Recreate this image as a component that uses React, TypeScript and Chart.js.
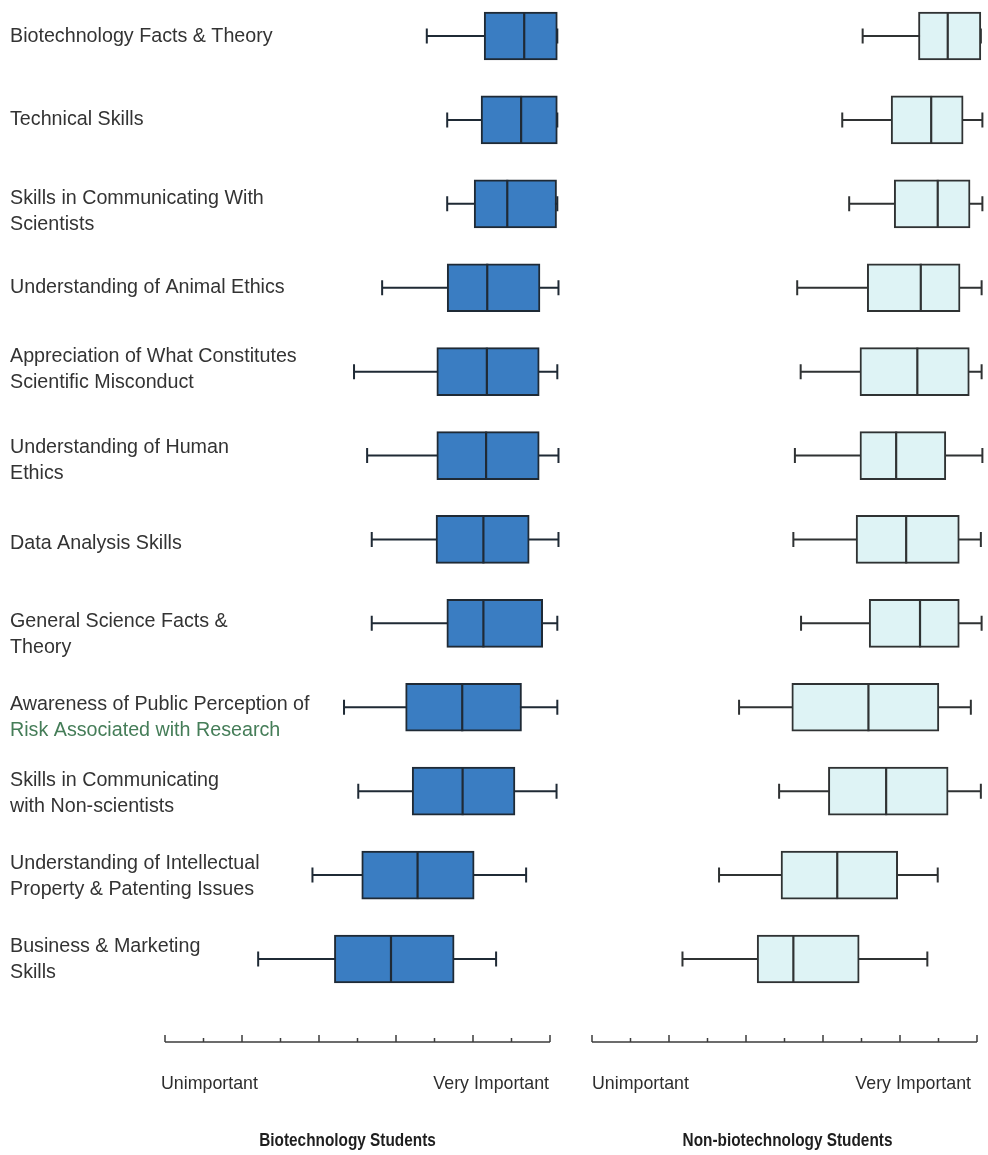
import React, { useEffect, useRef } from "react";
import { Chart, registerables } from "chart.js";

Chart.register(...registerables);

// ---------- data ----------
const categories: string[][] = [
  ["Biotechnology Facts & Theory"],
  ["Technical Skills"],
  ["Skills in Communicating With", "Scientists"],
  ["Understanding of Animal Ethics"],
  ["Appreciation of What Constitutes", "Scientific Misconduct"],
  ["Understanding of Human", "Ethics"],
  ["Data Analysis Skills"],
  ["General Science Facts &", "Theory"],
  ["Awareness of Public Perception of", "Risk Associated with Research"],
  ["Skills in Communicating", "with Non-scientists"],
  ["Understanding of Intellectual", "Property & Patenting Issues"],
  ["Business & Marketing", "Skills"],
];

const bioMin = [6.8, 7.33, 7.33, 5.64, 4.91, 5.25, 5.37, 5.37, 4.65, 5.02, 3.83, 2.42];
const bioQ1 = [8.29, 8.21, 8.03, 7.33, 7.06, 7.06, 7.04, 7.32, 6.25, 6.42, 5.11, 4.4];
const bioMedian = [9.33, 9.25, 8.89, 8.37, 8.36, 8.34, 8.27, 8.27, 7.72, 7.73, 6.56, 5.87];
const bioQ3 = [10.19, 10.19, 10.17, 9.74, 9.72, 9.72, 9.46, 9.81, 9.26, 9.09, 8.03, 7.51];
const bioMax = [10.19, 10.19, 10.19, 10.22, 10.19, 10.22, 10.22, 10.19, 10.19, 10.17, 9.38, 8.6];

const nonMin = [7.03, 6.5, 6.68, 5.33, 5.42, 5.27, 5.23, 5.43, 3.82, 4.86, 3.3, 2.35];
const nonQ1 = [8.48, 7.77, 7.85, 7.15, 6.96, 6.96, 6.86, 7.2, 5.19, 6.14, 4.91, 4.29];
const nonMedian = [9.24, 8.81, 8.98, 8.54, 8.45, 7.9, 8.16, 8.52, 7.18, 7.64, 6.37, 5.23];
const nonQ3 = [10.1, 9.64, 9.82, 9.56, 9.8, 9.19, 9.54, 9.54, 9.01, 9.25, 7.94, 6.94];
const nonMax = [10.1, 10.14, 10.14, 10.12, 10.12, 10.14, 10.1, 10.12, 9.84, 10.1, 8.98, 8.71];

const axisTickValues = [0, 1, 2, 3, 4, 5, 6, 7, 8, 9, 10];
const axisMajorTicks = [0, 2, 4, 6, 8, 10];
const axisEndLabels = ["Unimportant", "Very Important"];
const panelTitles = ["Biotechnology Students", "Non-biotechnology Students"];

// ---------- layout / style constants ----------
const W = 988;
const H = 1155;
const SPLIT = 570;
const AXIS_Y = 1042;
const END_LABEL_Y = 1084;
const TITLE_Y = 1141;
const LABEL_X = 10;
const LABEL_LINE_H = 26;
const LABEL_NUDGE = [1, 0, 8, 0, -2, 5, 4, 11, 10, 2, 1, 1];
const SANS = "'Liberation Sans', Arial, Helvetica, sans-serif";
const LABEL_COLOR = "#333333";
const GREEN_LINE = "Risk Associated with Research";
const GREEN_COLOR = "#457d58";

type Panel = {
  min: number[];
  q1: number[];
  median: number[];
  q3: number[];
  max: number[];
  fill: string;
  border: string;
  title: string;
  titleShift: number;
  showLabels: boolean;
  endLabelShift: number[];
};

function makePlugin(p: Panel) {
  return {
    id: "boxplotExtras",
    beforeDatasetsDraw(chart: any) {
      const { ctx } = chart;
      const xs = chart.scales.x;
      const ys = chart.scales.y;
      ctx.save();
      ctx.strokeStyle = p.border;
      ctx.lineWidth = 2;
      p.min.forEach((mn, i) => {
        const y = ys.getPixelForValue(i);
        const a = xs.getPixelForValue(mn);
        const b = xs.getPixelForValue(p.max[i]);
        ctx.beginPath();
        ctx.moveTo(a, y);
        ctx.lineTo(b, y);
        ctx.moveTo(a, y - 7.5);
        ctx.lineTo(a, y + 7.5);
        ctx.moveTo(b, y - 7.5);
        ctx.lineTo(b, y + 7.5);
        ctx.stroke();
      });
      ctx.restore();
    },
    afterDatasetsDraw(chart: any) {
      const { ctx } = chart;
      const xs = chart.scales.x;
      const ys = chart.scales.y;
      const meta = chart.getDatasetMeta(0);
      ctx.save();
      ctx.strokeStyle = p.border;
      ctx.lineWidth = 2.2;
      p.median.forEach((m, i) => {
        const y = ys.getPixelForValue(i);
        const el = meta.data[i];
        const half = el && el.height ? el.height / 2 : 24;
        const x = xs.getPixelForValue(m);
        ctx.beginPath();
        ctx.moveTo(x, y - half);
        ctx.lineTo(x, y + half);
        ctx.stroke();
      });
      ctx.restore();
    },
    afterDraw(chart: any) {
      const { ctx } = chart;
      const xs = chart.scales.x;
      const ys = chart.scales.y;
      const x0 = xs.getPixelForValue(axisTickValues[0]);
      const x1 = xs.getPixelForValue(axisTickValues[axisTickValues.length - 1]);
      ctx.save();

      // category labels
      if (p.showLabels) {
        ctx.font = `19.7px ${SANS}`;
        ctx.textAlign = "left";
        ctx.textBaseline = "middle";
        categories.forEach((lines, i) => {
          const yc = ys.getPixelForValue(i) + LABEL_NUDGE[i];
          const start = yc - ((lines.length - 1) * LABEL_LINE_H) / 2;
          lines.forEach((ln, k) => {
            ctx.fillStyle = ln === GREEN_LINE ? GREEN_COLOR : LABEL_COLOR;
            ctx.fillText(ln, LABEL_X, start + k * LABEL_LINE_H);
          });
        });
      }

      // bottom axis
      ctx.strokeStyle = "#3c3c3c";
      ctx.lineWidth = 1.5;
      ctx.beginPath();
      ctx.moveTo(x0, AXIS_Y);
      ctx.lineTo(x1, AXIS_Y);
      axisTickValues.forEach((v) => {
        const x = xs.getPixelForValue(v);
        const len = axisMajorTicks.includes(v) ? 7 : 4;
        ctx.moveTo(x, AXIS_Y);
        ctx.lineTo(x, AXIS_Y - len);
      });
      ctx.stroke();

      ctx.fillStyle = "#2e2e2e";
      ctx.font = `17.8px ${SANS}`;
      ctx.textBaseline = "middle";
      ctx.textAlign = "left";
      ctx.fillText(axisEndLabels[0], x0 + p.endLabelShift[0], END_LABEL_Y);
      ctx.textAlign = "right";
      ctx.fillText(axisEndLabels[1], x1 + p.endLabelShift[1], END_LABEL_Y);

      // panel title (condensed bold)
      ctx.fillStyle = "#1e1e1e";
      ctx.font = `bold 18.5px ${SANS}`;
      ctx.textAlign = "center";
      ctx.translate((x0 + x1) / 2 + p.titleShift, TITLE_Y);
      ctx.scale(0.83, 1);
      ctx.fillText(p.title, 0, 0);
      ctx.restore();
    },
  };
}

function buildConfig(p: Panel, padding: any): any {
  return {
    type: "bar",
    data: {
      labels: categories.map((c) => c.join(" ")),
      datasets: [
        {
          data: p.q1.map((q, i) => [q, p.q3[i]]),
          backgroundColor: p.fill,
          borderColor: p.border,
          borderWidth: 2,
          borderSkipped: false,
          barThickness: 48,
          clip: false,
        },
      ],
    },
    options: {
      indexAxis: "y",
      responsive: false,
      animation: false,
      devicePixelRatio: 1,
      layout: { padding },
      plugins: {
        legend: { display: false },
        tooltip: { enabled: false },
        title: { display: false },
      },
      scales: {
        x: {
          type: "linear",
          display: false,
          min: axisTickValues[0],
          max: axisTickValues[axisTickValues.length - 1],
        },
        y: {
          type: "category",
          display: false,
          offset: false,
        },
      },
    },
    plugins: [makePlugin(p)],
  };
}

const leftPanel: Panel = {
  min: bioMin,
  q1: bioQ1,
  median: bioMedian,
  q3: bioQ3,
  max: bioMax,
  fill: "#3a7dc2",
  border: "#1f2a35",
  title: panelTitles[0],
  titleShift: -10,
  showLabels: true,
  endLabelShift: [-4, -1],
};

const rightPanel: Panel = {
  min: nonMin,
  q1: nonQ1,
  median: nonMedian,
  q3: nonQ3,
  max: nonMax,
  fill: "#def3f5",
  border: "#2f3233",
  title: panelTitles[1],
  titleShift: 3,
  showLabels: false,
  endLabelShift: [0, -6],
};

export default function App() {
  const leftRef = useRef<HTMLCanvasElement>(null);
  const rightRef = useRef<HTMLCanvasElement>(null);

  useEffect(() => {
    const charts: Chart[] = [];
    if (leftRef.current) {
      charts.push(
        new Chart(
          leftRef.current,
          buildConfig(leftPanel, { left: 165, right: SPLIT - 550, top: 36, bottom: H - 959 })
        )
      );
    }
    if (rightRef.current) {
      charts.push(
        new Chart(
          rightRef.current,
          buildConfig(rightPanel, { left: 592 - SPLIT, right: W - 977, top: 36, bottom: H - 959 })
        )
      );
    }
    return () => charts.forEach((c) => c.destroy());
  }, []);

  return (
    <div
      style={{
        position: "absolute",
        left: 0,
        top: 0,
        width: W,
        height: H,
        background: "#ffffff",
        overflow: "hidden",
      }}
    >
      <canvas
        ref={leftRef}
        width={SPLIT}
        height={H}
        style={{ position: "absolute", left: 0, top: 0, width: SPLIT, height: H }}
      />
      <canvas
        ref={rightRef}
        width={W - SPLIT}
        height={H}
        style={{ position: "absolute", left: SPLIT, top: 0, width: W - SPLIT, height: H }}
      />
    </div>
  );
}
